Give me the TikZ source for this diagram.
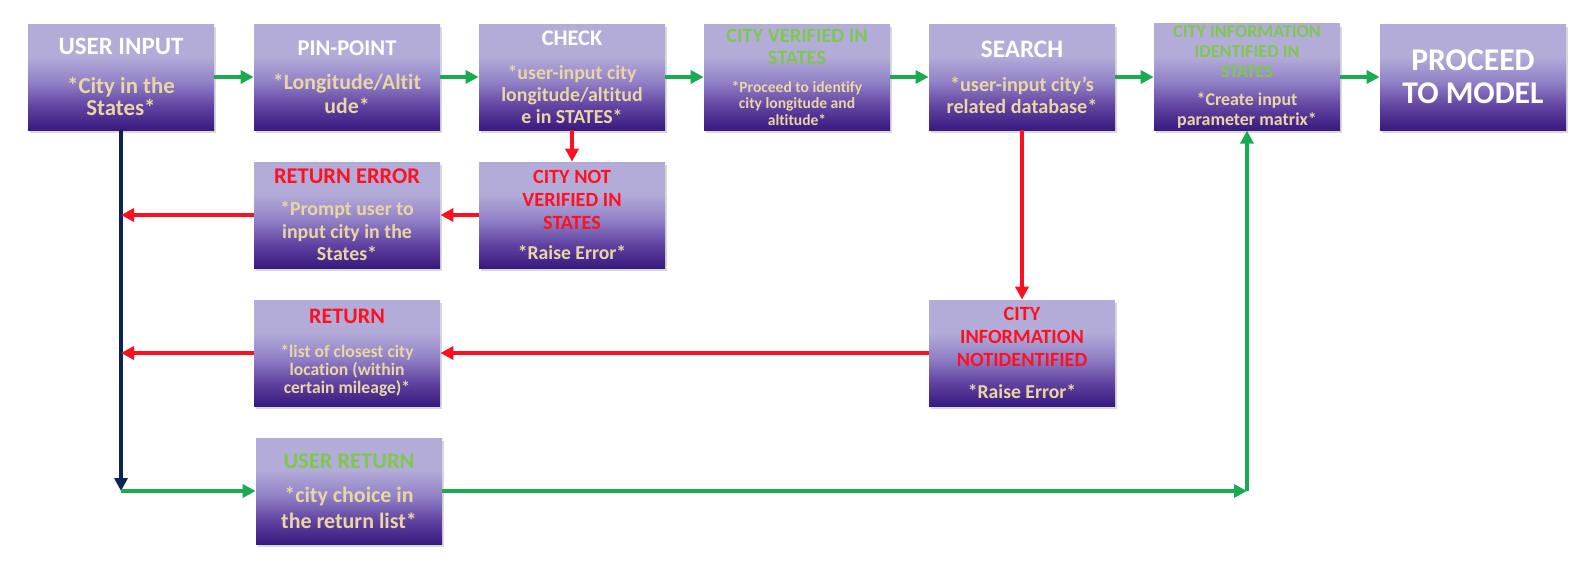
\documentclass[tikz,border=0pt]{standalone}
\usepackage{fontspec}
\setmainfont{Carlito}[Ligatures={TeX,NoCommon}]
\usepackage{xcolor}
\usepackage{tikz}
\usetikzlibrary{arrows.meta, shadows}

\definecolor{stagelight}{RGB}{180,172,216}
\definecolor{stagemid}{RGB}{146,130,199}
\definecolor{stagedeep}{RGB}{96,66,160}
\definecolor{stagedark}{RGB}{56,26,128}
\definecolor{notetxt}{RGB}{234,214,164}
\definecolor{okgreen}{RGB}{126,200,78}
\definecolor{errred}{RGB}{255,16,32}
\definecolor{flowgreen}{RGB}{26,170,80}
\definecolor{flowred}{RGB}{250,16,30}
\definecolor{flownavy}{RGB}{12,34,90}

\pgfdeclareverticalshading{stagefade}{100bp}{color(0bp)=(stagedark); color(25bp)=(stagedark);
  color(36bp)=(stagedeep); color(48bp)=(stagemid); color(60bp)=(stagelight); color(100bp)=(stagelight)}

\newcommand{\tsize}[2]{\fontsize{#1}{#2}\selectfont}

\tikzset{
  stage/.style={rectangle, shade, shading=stagefade, minimum width=3.72cm, minimum height=2.12cm,
                inner sep=1pt, text width=3.6cm, align=flush center, font=\bfseries,
                drop shadow={opacity=0.3, shadow xshift=0.04cm, shadow yshift=-0.06cm}},
  ok/.style={-{Triangle[length=2.6mm, width=2.6mm]}, line width=2pt, flowgreen},
  bad/.style={-{Triangle[length=2.6mm, width=2.6mm]}, line width=2pt, flowred},
  back/.style={-{Triangle[length=2.6mm, width=2.6mm]}, line width=2pt, flownavy}
}

\begin{document}
\begin{tikzpicture}
  \useasboundingbox (0,0) rectangle (31.76,-11.48);

  % main row
  \node[stage] (uin) at (2.42,-1.54)
    {{\tsize{14.2}{17}\color{white}USER INPUT\par}\vspace{9.3pt}%
     {\tsize{13}{12.9}\color{notetxt}*City in the\\States*\par}};
  \node[stage] (pin) at (6.94,-1.54)
    {{\tsize{12.8}{15}\color{white}PIN-POINT\par}\vspace{5.7pt}%
     {\tsize{12.4}{13.7}\color{notetxt}*Longitude/Altit\\ude*\par}};
  \node[stage] (chk) at (11.44,-1.54)
    {{\tsize{12.7}{15}\color{white}CHECK\par}\vspace{6.9pt}%
     {\tsize{11.3}{12.5}\color{notetxt}*user-input city\\longitude/altitud\\e in STATES*\par}};
  \node[stage] (cver) at (15.94,-1.54)
    {{\tsize{11.6}{12.5}\color{okgreen}CITY VERIFIED IN\\STATES\par}\vspace{6.6pt}%
     {\tsize{8.85}{9.4}\color{notetxt}*Proceed to identify\\city longitude and\\altitude*\par}};
  \node[stage] (srch) at (20.44,-1.54)
    {{\tsize{14.3}{16}\color{white}SEARCH\par}\vspace{7.1pt}%
     {\tsize{11.5}{12.3}\color{notetxt}*user-input city's\\related database*\par}};
  \node[stage] (cinfo) at (24.94,-1.54)
    {{\tsize{10.3}{11.4}\color{okgreen}CITY INFORMATION\\IDENTIFIED IN\\STATES\par}\vspace{4.6pt}%
     {\tsize{10.2}{11.4}\color{notetxt}*Create input\\parameter matrix*\par}};
  \node[stage] (model) at (29.46,-1.54)
    {{\tsize{18}{19}\color{white}PROCEED\\TO MODEL\par}};

  % error branches
  \node[stage] (rerr) at (6.94,-4.30)
    {{\tsize{12.8}{15}\color{errred}RETURN ERROR\par}\vspace{5pt}%
     {\tsize{11.3}{13}\color{notetxt}*Prompt user to\\input city in the\\States*\par}};
  \node[stage] (cnv) at (11.44,-4.30)
    {{\tsize{11.5}{13}\color{errred}CITY NOT\\VERIFIED IN\\STATES\par}\vspace{4pt}%
     {\tsize{11.2}{13}\color{notetxt}*Raise Error*\par}};
  \node[stage] (rlist) at (6.94,-7.06)
    {{\tsize{12.6}{15}\color{errred}RETURN\par}\vspace{8.6pt}%
     {\tsize{10}{10.4}\color{notetxt}*list of closest city\\location (within\\certain mileage)*\par}};
  \node[stage] (cnid) at (20.44,-7.06)
    {{\tsize{11.5}{13}\color{errred}CITY\\INFORMATION\\NOTIDENTIFIED\par}\vspace{5pt}%
     {\tsize{11.2}{13}\color{notetxt}*Raise Error*\par}};
  \node[stage] (ures) at (6.98,-9.82)
    {{\tsize{12.8}{15}\color{okgreen}USER RETURN\par}\vspace{4.6pt}%
     {\tsize{12.5}{14.8}\color{notetxt}*city choice in\\the return list*\par}};

  \coordinate (jerr) at (uin.south |- rerr.west);
  \coordinate (jlist) at (uin.south |- rlist.west);
  \coordinate (jdown) at (uin.south |- ures.west);
  \coordinate (jup) at (cinfo.south |- ures.east);

  % connectors
  \foreach \a/\b in {uin/pin, pin/chk, chk/cver, cver/srch, srch/cinfo, cinfo/model}
    \draw[ok] (\a) -- (\b);
  \draw[back] (uin) -- (jdown);
  \draw[bad] (chk) -- (cnv);
  \draw[bad] (cnv) -- (rerr);
  \draw[bad] (rerr) -- (jerr);
  \draw[bad] (srch) -- (cnid);
  \draw[bad] (cnid) -- (rlist);
  \draw[bad] (rlist) -- (jlist);
  \draw[ok] (jdown) -- (ures);
  \draw[ok] (ures) -- (jup);
  \draw[ok] (jup) -- (cinfo);
\end{tikzpicture}
\end{document}
